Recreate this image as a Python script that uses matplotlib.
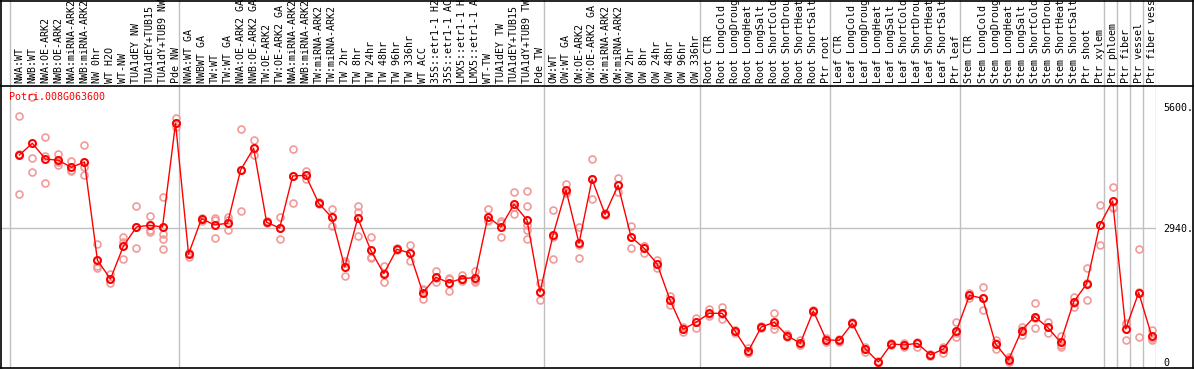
import matplotlib
matplotlib.use('Agg')
import matplotlib.pyplot as plt
from matplotlib.lines import Line2D
import matplotlib.transforms as mtransforms

# sample names, in plotting order
samples = ['NWA:WT', 'NWB:WT', 'NWA:OE-ARK2', 'NWB:OE-ARK2', 'NWA:miRNA-ARK2', 'NWB:miRNA-ARK2',
           'NW 0hr', 'WT H2O', 'WT-NW', 'TUA1dEY NW', 'TUA1dEY+TUB15', 'TUA1dY+TUB9 NW', 'Pde NW',
           'NWA:WT GA', 'NWBWT GA', 'TW:WT', 'TW:WT GA', 'NWA:OE-ARK2 GA', 'NWB:OE-ARK2 GA',
           'TW:OE-ARK2', 'TW:OE-ARK2 GA', 'NWA:miRNA-ARK2', 'NWB:miRNA-ARK2', 'TW:miRNA-ARK2',
           'TW:miRNA-ARK2', 'TW 2hr', 'TW 8hr', 'TW 24hr', 'TW 48hr', 'TW 96hr', 'TW 336hr', 'WT ACC',
           '35S::etr1-1 H2O', '35S::etr1-1 ACC', 'LMX5::etr1-1 H2O', 'LMX5::etr1-1 ACC', 'WT-TW',
           'TUA1dEY TW', 'TUA1dEY+TUB15', 'TUA1dY+TUB9 TW', 'Pde TW',
           'OW:WT', 'OW:WT GA', 'OW:OE-ARK2', 'OW:OE-ARK2 GA', 'OW:miRNA-ARK2', 'OW:miRNA-ARK2',
           'OW 2hr', 'OW 8hr', 'OW 24hr', 'OW 48hr', 'OW 96hr', 'OW 336hr',
           'Root CTR', 'Root LongCold', 'Root LongDrought', 'Root LongHeat', 'Root LongSalt',
           'Root ShortCold', 'Root ShortDrought', 'Root ShortHeat', 'Root ShortSalt', 'Ptr root',
           'Leaf CTR', 'Leaf LongCold', 'Leaf LongDrought', 'Leaf LongHeat', 'Leaf LongSalt',
           'Leaf ShortCold', 'Leaf ShortDrought', 'Leaf ShortHeat', 'Leaf ShortSalt', 'Ptr leaf',
           'Stem CTR', 'Stem LongCold', 'Stem LongDrought', 'Stem LongHeat', 'Stem LongSalt',
           'Stem ShortCold', 'Stem ShortDrought', 'Stem ShortHeat', 'Stem ShortSalt', 'Ptr shoot',
           'Ptr xylem', 'Ptr phloem', 'Ptr fiber', 'Ptr vessel', 'Ptr fiber vessel']

# first sample index of each group
group_starts = [0, 13, 41, 53, 63, 73, 84, 85, 86, 87]

# mean expression per sample
means = [4542, 4798, 4454, 4425, 4271, 4388, 2231, 1822, 2546, 2962, 2999, 2962, 5237,
         2370, 3145, 3006, 3043, 4213, 4688, 3065, 2940, 4081, 4096, 3482, 3174, 2085, 3160,
         2450, 1938, 2472, 2392, 1522, 1858, 1741, 1829, 1851, 3189, 2962, 3460, 3116, 1536,
         2780, 3774, 2604, 4008, 3240, 3876, 2743, 2494, 2151, 1353, 717, 871,
         1068, 1068, 673, 235, 768, 871, 578, 410, 1119, 483,
         476, 849, 286, 0, 396, 374, 410, 154, 286, 688,
         1463, 1397, 396, 44, 688, 995, 761, 432, 1317, 1712, 2999,
         3533, 725, 1522, 571]

# replicate values per sample
reps = [[5390, 4557, 3679], [5807, 4469, 4169], [4937, 4520, 3928], [4571, 4388, 4315],
        [4418, 4213, 4184], [4754, 4279, 4096], [2589, 2114, 2056], [1931, 1814, 1726],
        [2743, 2641, 2260], [3416, 2970, 2502], [3204, 2897, 2860], [3628, 2809, 2692, 2472],
        [5346, 5237, 5149],
        [2399, 2385, 2311], [3167, 3145, 3094], [3167, 3116, 2714], [3189, 3116, 2889],
        [5105, 4213, 3313], [4871, 4688, 4535], [3094, 3065, 3043], [3182, 2940, 2692],
        [4666, 4081, 3482], [4191, 4096, 4008], [3504, 3482, 3460], [3357, 3174, 2992],
        [2224, 2165, 1880], [3416, 3284, 2765], [2750, 2312, 2290], [2099, 1960, 1748],
        [2494, 2472, 2458], [2567, 2392, 2209], [1602, 1580, 1383], [1990, 1836, 1748],
        [1851, 1822, 1551], [1902, 1800, 1785], [1997, 1807, 1748], [3357, 3116, 3094],
        [3101, 3050, 2736], [3730, 3408, 3240], [3752, 3423, 3006, 2897, 2699],
        [1726, 1536, 1361],
        [3335, 2750, 2260], [3898, 3730, 3701], [2962, 2567, 2282], [4447, 4008, 3569],
        [3262, 3240, 3218], [4030, 3876, 3723], [2984, 2743, 2494], [2553, 2545, 2385],
        [2231, 2151, 2070], [1456, 1353, 1251], [776, 717, 666], [973, 885, 746],
        [1163, 1053, 1010], [1207, 1053, 951], [703, 673, 644], [315, 213, 191],
        [790, 768, 754], [1068, 812, 732], [608, 578, 556], [483, 374, 374],
        [1141, 1119, 1105], [520, 483, 432],
        [498, 476, 447], [871, 849, 834], [337, 286, 227], [30, 0, 0], [410, 396, 374],
        [425, 374, 322], [432, 410, 337], [176, 154, 139], [337, 286, 191], [878, 644, 542],
        [1522, 1463, 1405], [1653, 1397, 1141], [483, 410, 286], [103, 81, 0], [761, 703, 593],
        [1288, 959, 739], [871, 776, 629], [578, 374, 337], [1434, 1302, 1215],
        [2056, 1726, 1353], [3438, 2999, 2567],
        [3833, 3394, 3372], [863, 827, 483], [2472, 1544, 542], [703, 520, 483]]

gene = 'Potri.008G063600'
ytick_vals = [0, 2940, 5600]
ytick_text = ['0', '2940.', '5600.']

W, H = 1194, 370
mono = 'DejaVu Sans Mono'
grid_c = '#c0c0c0'

fig = plt.figure(figsize=(W / 100, H / 100), dpi=100)

x_lo, x_hi = -1.41, 87.33
ax = fig.add_axes([1 / W, 1 - 368 / H, 1155 / W, (368 - 86) / H])
hd = fig.add_axes([1 / W, 1 - 85 / H, 1155 / W, 85 / H])

for a in (ax, hd):
    a.set_xlim(x_lo, x_hi)
    for s in a.spines.values():
        s.set_visible(False)
    a.set_xticks([])
    for k in group_starts + [len(samples)]:
        a.axvline(k - 0.7, color=grid_c, lw=1, zorder=0)

hd.set_ylim(0, 1)
hd.set_yticks([])
trans = mtransforms.blended_transform_factory(hd.transData, hd.transAxes)
for i, name in enumerate(samples):
    hd.text(i, 2 / 85, name, rotation=90, ha='center', va='bottom', family=mono,
            fontsize=7.2, color='black', transform=trans, clip_on=False)

ax.set_ylim(-132, 6055)
ax.axhline(2940, color=grid_c, lw=1, zorder=0)

for i, r in enumerate(reps):
    ax.plot([i] * len(r), r, 'o', ms=5, mfc='none', mec='#f19a9a', mew=1.2, zorder=2)
ax.plot(range(len(means)), means, '-', color='red', lw=1, zorder=3)
ax.plot(range(len(means)), means, 'o', ms=5, mfc='none', mec='red', mew=1.5, zorder=4)

ax.yaxis.tick_right()
ax.set_yticks(ytick_vals)
ax.set_yticklabels(ytick_text, family=mono, fontsize=7.2)
ax.tick_params(axis='y', length=0, pad=5)

fig.text(9 / W, 1 - 97 / H, gene, color='red', family=mono, fontsize=7.2, va='center', ha='left')

# outer frame and header separator
def fline(x0, y0, x1, y1):
    fig.add_artist(Line2D([x0 / W, x1 / W], [1 - y0 / H, 1 - y1 / H], color='black', lw=1.2))

fline(1, 0.5, 1193, 0.5)
fline(1, 85.5, 1193, 85.5)
fline(1, 368, 1193, 368)
fline(1, 0, 1, 368)
fline(1193, 0, 1193, 368)

fig.savefig('out.png', dpi=100)
